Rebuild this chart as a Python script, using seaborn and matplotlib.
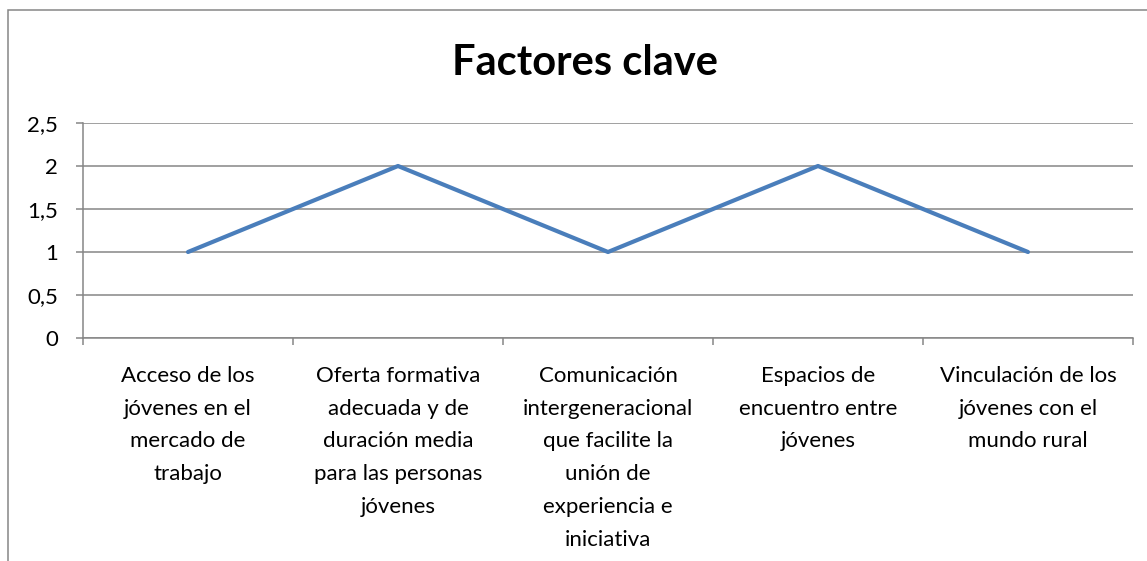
import matplotlib.pyplot as plt
import matplotlib.patches as mpatches
from matplotlib.ticker import FixedLocator
import seaborn as sns
import pandas as pd

categories = [
    "Acceso de los\njóvenes en el\nmercado de\ntrabajo",
    "Oferta formativa\nadecuada y de\nduración media\npara las personas\njóvenes",
    "Comunicación\nintergeneracional\nque facilite la\nunión de\nexperiencia e\niniciativa",
    "Espacios de\nencuentro entre\njóvenes",
    "Vinculación de los\njóvenes con el\nmundo rural",
]
values = [1, 2, 1, 2, 1]
y_ticks = [0, 0.5, 1, 1.5, 2, 2.5]
y_labels = ["0", "0,5", "1", "1,5", "2", "2,5"]

sns.set_style("white")
plt.rcParams['font.family'] = ['Lato', 'DejaVu Sans']
plt.rcParams['text.color'] = 'black'
plt.rcParams['xtick.labelcolor'] = 'black'
plt.rcParams['ytick.labelcolor'] = 'black'

df = pd.DataFrame({"pos": range(len(values)), "valor": values})

fig = plt.figure(figsize=(11.47, 5.61), dpi=100)
ax = fig.add_axes([83 / 1147, 1 - 338 / 561, (1133 - 83) / 1147, (338 - 123) / 561])

grid_col = "#868686"
sns.lineplot(data=df, x="pos", y="valor", color="#4A7EBB", linewidth=3.0, ax=ax)

ax.set_xlim(-0.5, len(values) - 0.5)
ax.set_ylim(0, 2.5)
ax.set_yticks(y_ticks)
ax.set_yticklabels(y_labels)
ax.yaxis.grid(True, color=grid_col, linewidth=1.1)
ax.set_axisbelow(True)

# major ticks on category boundaries, labels on minor ticks at centers
ax.xaxis.set_major_locator(FixedLocator([i - 0.5 for i in range(len(values) + 1)]))
ax.xaxis.set_minor_locator(FixedLocator(list(range(len(values)))))
ax.set_xticklabels([], minor=False)
ax.set_xticklabels(categories, minor=True, fontsize=16, linespacing=1.8)
ax.tick_params(axis="x", which="major", length=5, width=1.1, color=grid_col, direction="out", bottom=True)
ax.tick_params(axis="x", which="minor", length=0, pad=20)
ax.tick_params(axis="y", length=5, width=1.1, color=grid_col, pad=13, labelsize=16, left=True)

ax.set_xlabel("")
ax.set_ylabel("")
for s in ["top", "right"]:
    ax.spines[s].set_visible(False)
for s in ["left", "bottom"]:
    ax.spines[s].set_color(grid_col)
    ax.spines[s].set_linewidth(1.1)

fig.text(585 / 1147, 1 - 63 / 561, "Factores clave", ha="center", va="center",
         fontsize=30, fontweight="bold")

# outer chart frame (only left and top edges visible in the crop)
frame = mpatches.Rectangle((8 / 1147, -0.05), 1.1, 1 - 10 / 561 + 0.05,
                           transform=fig.transFigure, fill=False,
                           edgecolor=grid_col, linewidth=1.1, clip_on=False)
fig.patches.append(frame)

fig.savefig("out.png", dpi=100)
